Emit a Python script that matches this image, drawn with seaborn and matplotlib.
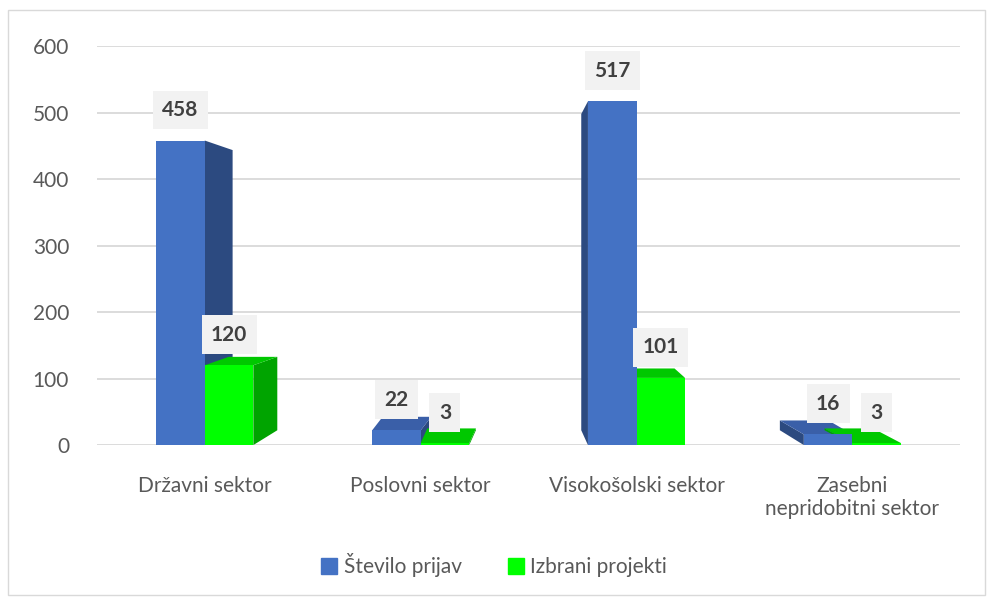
import pandas as pd
import numpy as np
import matplotlib.pyplot as plt
import seaborn as sns
from matplotlib.patches import Rectangle, Polygon
from matplotlib.transforms import IdentityTransform

# Data
sectors = ['Državni sektor', 'Poslovni sektor', 'Visokošolski sektor', 'Zasebni\nnepridobitni sektor']
prijave = [458, 22, 517, 16]
izbrani = [120, 3, 101, 3]
series = ['Število prijav', 'Izbrani projekti']
colors = ['#4472c4', '#00ff00']
side_colors = ['#2c4a80', '#00a400']
top_colors = ['#3a5fa8', '#00c800']

df = pd.DataFrame({
    'sektor': sectors * 2,
    'vrednost': prijave + izbrani,
    'serija': [series[0]] * 4 + [series[1]] * 4,
})

sns.set_style('white')
plt.rcParams['font.family'] = ['Lato', 'DejaVu Sans']

fig = plt.figure(figsize=(9.88, 5.99), dpi=100)
ax = fig.add_axes([0.098, 0.257, 0.874, 0.666])

sns.barplot(data=df, x='sektor', y='vrednost', hue='serija', palette=colors,
            width=0.45, saturation=1, ax=ax, legend=False, zorder=3, linewidth=0)

ax.set_ylim(0, 600)
ax.set_yticks(range(0, 601, 100))
ax.yaxis.grid(True, color='#d9d9d9', linewidth=1.3)
ax.set_axisbelow(True)
for s in ax.spines.values():
    s.set_visible(False)
ax.set_xlabel('')
ax.set_ylabel('')
ax.tick_params(axis='y', length=0, pad=20, labelsize=15, labelcolor='#595959')
ax.tick_params(axis='x', length=0, pad=22, labelsize=15, labelcolor='#595959')
for lbl in ax.get_xticklabels():
    lbl.set_verticalalignment('top')

# fake 3D depth: side and top faces leaning toward a vanishing point
bbox = ax.get_window_extent()
vx = (bbox.x0 + bbox.x1) / 2
vy = fig.bbox.height - 260
k = 0.08
for cont, sc, tc in zip(ax.containers, side_colors, top_colors):
    for bar in cont:
        (x0, y0), (x1, y1) = ax.transData.transform([(bar.get_x(), 0),
                                                      (bar.get_x() + bar.get_width(), bar.get_height())])
        cx = (x0 + x1) / 2
        dx = k * (vx - cx)
        dyt = k * (vy - y1)
        dyb = k * (vy - y0)
        ex = x1 if dx > 0 else x0
        side = Polygon([(ex, y0), (ex, y1), (ex + dx, y1 + dyt), (ex + dx, y0 + dyb)],
                       closed=True, fc=sc, ec='none', transform=IdentityTransform(), zorder=2)
        ax.add_artist(side)
        if dyt > 0:
            top = Polygon([(x0, y1), (x1, y1), (x1 + dx, y1 + dyt), (x0 + dx, y1 + dyt)],
                          closed=True, fc=tc, ec='none', transform=IdentityTransform(), zorder=2)
            ax.add_artist(top)

# data labels in grey boxes
for cont in ax.containers:
    for bar in cont:
        h = bar.get_height()
        ax.annotate(f'{int(h)}', (bar.get_x() + bar.get_width() / 2, h),
                    xytext=(0, 22), textcoords='offset points', ha='center', va='center',
                    fontsize=15, fontweight='bold', color='#404040', zorder=5,
                    bbox=dict(boxstyle='square,pad=0.45', fc='#f2f2f2', ec='none'))

handles = [Rectangle((0, 0), 1, 1, color=c) for c in colors]
fig.legend(handles, series, loc='center', bbox_to_anchor=(0.5, 0.057), ncol=2, frameon=False,
           fontsize=15, labelcolor='#595959', handlelength=0.8, handleheight=0.8,
           handletextpad=0.3, columnspacing=2.2)

fig.patches.append(Rectangle((8 / 988, 4 / 599), 977 / 988, 585 / 599, transform=fig.transFigure,
                             fill=False, ec='#d9d9d9', lw=1))

fig.savefig('out.png', dpi=100)
